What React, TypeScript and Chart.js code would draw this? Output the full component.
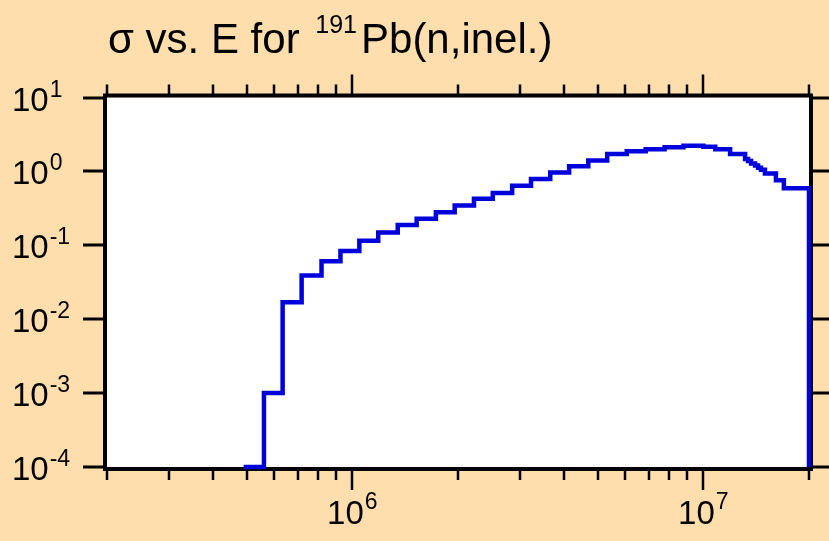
import React, { useEffect, useRef } from "react";
import { Chart, registerables } from "chart.js";

Chart.register(...registerables);

// Bin edges (eV) and inelastic cross section (barns) per bin
const binEdgesEV = [
  4.9e5, 5.6e5, 6.33e5, 7.17e5, 8.17e5, 9.25e5, 1.047e6, 1.185e6, 1.347e6, 1.525e6,
  1.73e6, 1.957e6, 2.221e6, 2.513e6, 2.853e6, 3.229e6, 3.663e6, 4.146e6, 4.701e6, 5.323e6,
  6.051e6, 6.85e6, 7.755e6, 8.776e6, 1.0e7, 1.081e7, 1.192e7, 1.315e7, 1.341e7, 1.368e7,
  1.404e7, 1.432e7, 1.46e7, 1.498e7, 1.61e7, 1.696e7, 2.0e7,
];
const sigmaBarns = [
  1.0e-4, 1.0e-3, 0.017, 0.039, 0.061, 0.084, 0.115, 0.149, 0.188, 0.229,
  0.281, 0.346, 0.425, 0.511, 0.641, 0.789, 0.966, 1.17, 1.4, 1.72,
  1.88, 2.0, 2.13, 2.22, 2.16, 2.0, 1.72, 1.47, 1.38, 1.28,
  1.2, 1.12, 1.05, 0.94, 0.76, 0.59,
];
const sigmaFloor = 1.0e-4;

const xMin = 2e5;
const xMax = 2e7;
const yMin = 1e-4;
const yMax = 10;
const xMajorExponents = [6, 7];
const xMinorTicks = [2e5, 3e5, 4e5, 5e5, 6e5, 7e5, 8e5, 9e5, 2e6, 3e6, 4e6, 5e6, 6e6, 7e6, 8e6, 9e6, 2e7];
const yMajorExponents = [1, 0, -1, -2, -3, -4];

const titleMain = "σ vs. E for";
const titleSup = "191";
const titleRest = "Pb(n,inel.)";

const BG = "#FFDEAD";
const FONT = '"Liberation Sans", Arial, Helvetica, sans-serif';
const MAIN = 33;
const SUP = 23;

const decorPlugin = {
  id: "decor",
  beforeDraw(chart: any) {
    const { ctx, chartArea: a, width, height } = chart;
    ctx.save();
    ctx.fillStyle = BG;
    ctx.fillRect(0, 0, width, height);
    ctx.fillStyle = "#ffffff";
    ctx.fillRect(a.left, a.top, a.right - a.left, a.bottom - a.top);
    ctx.restore();
  },
  beforeDatasetsDraw(chart: any) {
    const { ctx, chartArea: a, width } = chart;
    const xs = chart.scales.x;
    const ys = chart.scales.y;
    ctx.save();
    ctx.strokeStyle = "#000";
    ctx.lineCap = "butt";
    ctx.lineWidth = 2.5;
    const xt = (v: number, len: number) => {
      const px = Math.round(xs.getPixelForValue(v));
      ctx.beginPath();
      ctx.moveTo(px, a.bottom + 2);
      ctx.lineTo(px, a.bottom + 2 + len);
      ctx.moveTo(px, a.top - 2);
      ctx.lineTo(px, a.top - 2 - len);
      ctx.stroke();
    };
    xMinorTicks.forEach((v) => xt(v, 11));
    xMajorExponents.forEach((e) => xt(Math.pow(10, e), 21));
    ctx.lineWidth = 3;
    yMajorExponents.forEach((e) => {
      const py = Math.round(ys.getPixelForValue(Math.pow(10, e)));
      ctx.beginPath();
      ctx.moveTo(a.left - 24, py);
      ctx.lineTo(a.left - 2, py);
      ctx.moveTo(a.right + 2, py);
      ctx.lineTo(width, py);
      ctx.stroke();
    });
    ctx.lineWidth = 4;
    ctx.strokeRect(a.left - 2, a.top - 2, a.right - a.left + 4, a.bottom - a.top + 4);
    ctx.restore();
  },
  afterDraw(chart: any) {
    const { ctx, chartArea: a } = chart;
    const xs = chart.scales.x;
    const ys = chart.scales.y;
    ctx.save();
    ctx.fillStyle = "#000";
    ctx.textBaseline = "alphabetic";
    ctx.textAlign = "left";
    yMajorExponents.forEach((e) => {
      const py = ys.getPixelForValue(Math.pow(10, e));
      ctx.font = `${MAIN}px ${FONT}`;
      ctx.fillText("10", 12, py + 13);
      const w = ctx.measureText("10").width;
      ctx.font = `${SUP}px ${FONT}`;
      ctx.fillText(String(e), 12 + w + 1, py - 1);
    });
    xMajorExponents.forEach((e) => {
      const px = xs.getPixelForValue(Math.pow(10, e));
      ctx.font = `${MAIN}px ${FONT}`;
      const w1 = ctx.measureText("10").width;
      ctx.font = `${SUP}px ${FONT}`;
      const w2 = ctx.measureText(String(e)).width;
      const x0 = px - (w1 + w2 + 1) / 2;
      ctx.font = `${MAIN}px ${FONT}`;
      ctx.fillText("10", x0, a.bottom + 57);
      ctx.font = `${SUP}px ${FONT}`;
      ctx.fillText(String(e), x0 + w1 + 1, a.bottom + 42);
    });
    let tx = 108;
    const ty = 53;
    ctx.font = `42px ${FONT}`;
    ctx.fillText(titleMain, tx, ty);
    tx += ctx.measureText(titleMain + " ").width + 4;
    ctx.font = `25px ${FONT}`;
    ctx.fillText(titleSup, tx, ty - 20);
    tx += ctx.measureText(titleSup).width + 4;
    ctx.font = `42px ${FONT}`;
    ctx.fillText(titleRest, tx, ty);
    ctx.restore();
  },
};

export default function App() {
  const ref = useRef<HTMLCanvasElement | null>(null);
  useEffect(() => {
    document.body.style.margin = "0";
    if (!ref.current) return;
    const points = binEdgesEV.map((e, i) => ({
      x: e,
      y: i < sigmaBarns.length ? sigmaBarns[i] : sigmaFloor,
    }));
    const chart = new Chart(ref.current, {
      type: "line",
      data: {
        datasets: [
          {
            data: points,
            borderColor: "#0000DD",
            borderWidth: 4.5,
            pointRadius: 0,
            stepped: "before",
            fill: false,
            tension: 0,
            clip: 4,
          } as any,
        ],
      },
      options: {
        responsive: false,
        animation: false,
        devicePixelRatio: 1,
        layout: { padding: { left: 107, top: 97.5, right: 20, bottom: 74 } },
        plugins: { legend: { display: false }, tooltip: { enabled: false }, title: { display: false } },
        events: [],
        scales: {
          x: { type: "logarithmic", min: xMin, max: xMax, display: false },
          y: { type: "logarithmic", min: yMin, max: yMax, display: false },
        },
      },
      plugins: [decorPlugin],
    });
    return () => chart.destroy();
  }, []);
  return (
    <div style={{ position: "absolute", left: 0, top: 0, width: 829, height: 541, background: BG }}>
      <canvas ref={ref} width={829} height={541} style={{ display: "block" }} />
    </div>
  );
}
